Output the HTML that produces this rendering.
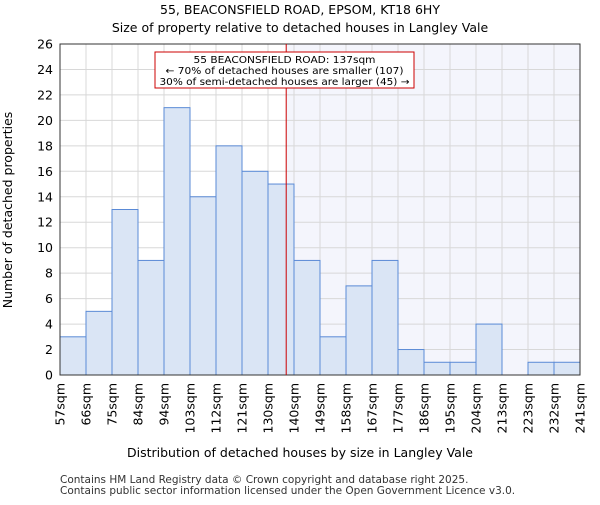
<!DOCTYPE html>
<html><head><meta charset="utf-8"><style>body{margin:0;background:#fff}text{font-family:"DejaVu Sans","Liberation Sans",sans-serif}</style></head>
<body>
<svg id="c" width="600" height="500" xmlns="http://www.w3.org/2000/svg"></svg>
<script>
const binLabels=["57sqm","66sqm","75sqm","84sqm","94sqm","103sqm","112sqm","121sqm","130sqm","140sqm","149sqm","158sqm","167sqm","177sqm","186sqm","195sqm","204sqm","213sqm","223sqm","232sqm","241sqm"];
const counts=[3,5,13,9,21,14,18,16,15,9,3,7,9,2,1,1,4,0,1,1];
const yTicks=[0,2,4,6,8,10,12,14,16,18,20,22,24,26];
const markerBin=8.7;
const NS="http://www.w3.org/2000/svg",svg=document.getElementById('c');
const L=60,R=580,T=44,B=375,ymax=26;
const bw=(R-L)/counts.length;
const x=i=>L+i*bw, y=v=>B-v/ymax*(B-T);
function el(t,a,txt){const e=document.createElementNS(NS,t);for(const k in a)e.setAttribute(k,a[k]);if(txt!=null)e.textContent=txt;svg.appendChild(e);return e;}
let e;
e=el('rect',{x:x(markerBin),y:T,width:R-x(markerBin),height:B-T,fill:'#f4f5fc'});

yTicks.forEach(v=>{e=el('line',{x1:L,x2:R,y1:y(v),y2:y(v),stroke:'#d8d8d8','stroke-width':1});

e=el('text',{x:L-7,y:y(v)+4.5,'text-anchor':'end','font-size':12.5},v);
});
binLabels.forEach((s,i)=>{e=el('line',{x1:x(i),x2:x(i),y1:T,y2:B,stroke:'#d8d8d8','stroke-width':1});

e=el('text',{x:0,y:0,'text-anchor':'end','font-size':12.5,transform:`translate(${x(i)+4.5},${B+8}) rotate(-90)`},s);
});
counts.forEach((v,i)=>{if(v<=0)return;e=el('rect',{x:x(i),y:y(v),width:bw,height:B-y(v),fill:'#dae5f5',stroke:'#5a8ad6','stroke-width':1});
});
e=el('rect',{x:L,y:T,width:R-L,height:B-T,fill:'none',stroke:'#333','stroke-width':1});

e=el('line',{x1:x(markerBin),x2:x(markerBin),y1:T,y2:B,stroke:'#cc0000','stroke-width':1});

e=el('rect',{x:155,y:52,width:259,height:36,fill:'#fff',stroke:'#cc0000','stroke-width':1});

["55 BEACONSFIELD ROAD: 137sqm","← 70% of detached houses are smaller (107)","30% of semi-detached houses are larger (45) →"].forEach((s,i)=>{
e=el('text',{x:284.5,y:63+i*11,'text-anchor':'middle','font-size':10,textLength:i==0?182:(i==1?238:250),lengthAdjust:'spacingAndGlyphs'},s);
});
e=el('text',{x:300,y:14,'text-anchor':'middle','font-size':12.5},"55, BEACONSFIELD ROAD, EPSOM, KT18 6HY");

e=el('text',{x:300,y:32,'text-anchor':'middle','font-size':12.5},"Size of property relative to detached houses in Langley Vale");

e=el('text',{x:300,y:457,'text-anchor':'middle','font-size':12.5},"Distribution of detached houses by size in Langley Vale");

e=el('text',{x:0,y:0,'text-anchor':'middle','font-size':12.5,transform:'translate(12,210) rotate(-90)'},"Number of detached properties");

e=el('text',{x:60,y:483,'font-size':10.5,fill:'#333'},"Contains HM Land Registry data © Crown copyright and database right 2025.");

e=el('text',{x:60,y:494,'font-size':10.5,fill:'#333'},"Contains public sector information licensed under the Open Government Licence v3.0.");

</script>
</body></html>
